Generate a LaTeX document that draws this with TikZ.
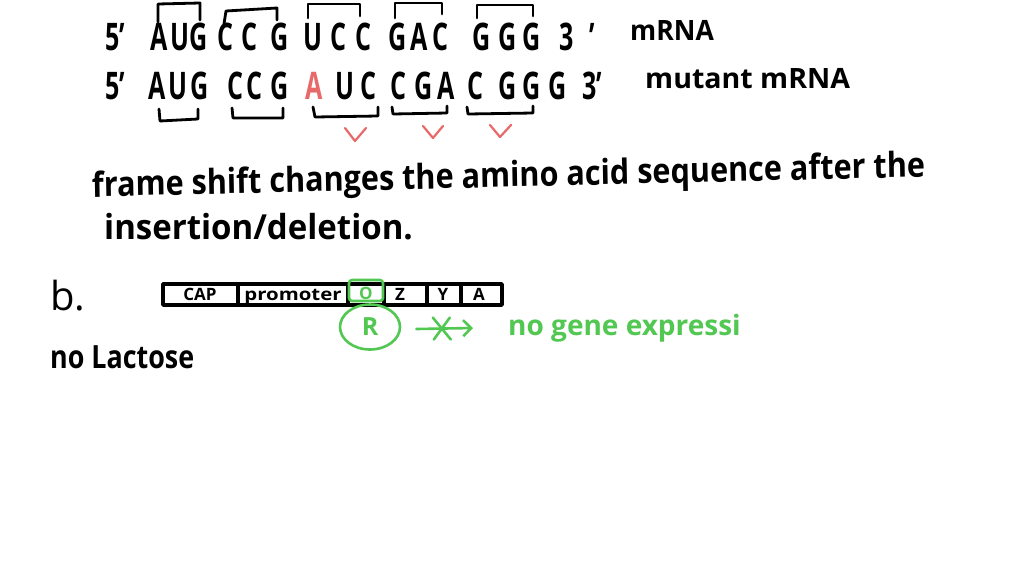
\documentclass[tikz,border=0pt]{standalone}
\usepackage{fontspec}
\setmainfont{Open Sans}
\usetikzlibrary{arrows.meta,shapes.geometric}
\definecolor{hgreen}{RGB}{82,200,82}
\definecolor{hred}{RGB}{232,105,105}
\begin{document}
\begin{tikzpicture}[x=1pt,y=-1pt,
  ink/.style={line width=2.8pt,line cap=round,line join=round},
  boxline/.style={line width=3.4pt,line cap=round,line join=round},
  gink/.style={line width=2.6pt,line cap=round,line join=round,draw=hgreen},
  rink/.style={line width=2.2pt,line cap=round,line join=round,draw=hred},
  nt/.style={inner sep=0pt,anchor=base},
  big/.style={nt,font=\fontsize{38}{38}\selectfont\bfseries,xscale=0.66},
  lab/.style={nt,font=\fontsize{28}{28}\selectfont\bfseries},
  para/.style={inner sep=0pt,anchor=base west,font=\fontsize{30}{30}\selectfont\bfseries,yscale=1.15},
  small/.style={nt,font=\fontsize{17}{17}\selectfont\bfseries}]
\path[use as bounding box,fill=white] (0,0) rectangle (1024,576);

% ---- row 1: mRNA
\node[big] (p5a) at (115,50) {5'};
\foreach \t/\x [count=\i] in {A/159,U/180,G/199,C/225,C/249,G/280,U/313,C/338,C/363,G/398,A/419,C/440,G/482,G/508,G/532}
  \node[big] (a\i) at (\x,50) {\t};
\node[big] (p3a) at (567,50) {3};
\node[big] (pa) at (592,50) {'};
\node[lab,anchor=base west,xscale=0.95] (mrna) at (630,40) {mRNA};

% brackets above row 1
\draw[ink] (158,22) -- (158,4) -- (200,3) -- (200,20);
\draw[ink] (224,24) -- (226,11) -- (277,8) -- (277,20);
\draw[ink] (308,18) -- (308,4) -- (360,4) -- (360,16);
\draw[ink] (395,18) -- (395,3) -- (442,3) -- (442,14);
\draw[ink] (477,18) -- (477,5) -- (533,5) -- (533,16);

% ---- row 2: mutant mRNA
\node[big] (p5b) at (115,99) {5'};
\foreach \t/\x [count=\i] in {A/157,U/178,G/200,C/235,C/254,G/280}
  \node[big] (b\i) at (\x,99) {\t};
\node[big,text=hred] (ins) at (314,99) {A};
\foreach \t/\x [count=\i from 7] in {U/345,C/368,C/398,G/424,A/446,C/475,G/508,G/532,G/558}
  \node[big] (b\i) at (\x,99) {\t};
\node[big] (p3b) at (592,99) {3'};
\node[lab,anchor=base west,xscale=1.02] (mut) at (645,88) {mutant mRNA};

% brackets below row 2
\draw[ink] (159,109) -- (160,121) -- (198,119) -- (198,109);
\draw[ink] (232,108) -- (233,118) -- (283,118) -- (283,108);
\draw[ink] (313,107) -- (315,117) -- (378,116) -- (378,107);
\draw[ink] (392,107) -- (393,114) -- (447,113) -- (447,106);
\draw[ink] (467,107) -- (468,114) -- (533,113) -- (533,106);

% red check marks
\draw[rink] (345,128) -- (355,141) -- (366,128);
\draw[rink] (423,126) -- (433,138) -- (443,126);
\draw[rink] (490,125) -- (500,137) -- (511,125);

% ---- sentence
\node[para,rotate=1.2,xscale=1.02] (s1) at (92,197) {frame shift changes the amino acid sequence after the};
\node[para,xscale=1.1] (s2) at (104,239) {insertion/deletion.};

% ---- part b
\node[nt,anchor=base west,font=\fontsize{40}{40}\selectfont] (pb) at (50,310) {b.};
\draw[boxline] (163,284) rectangle (502,305);
\draw[boxline] (238,284) -- (238,305);
\draw[boxline] (348,284) -- (348,305);
\draw[boxline] (384,284) -- (384,305);
\draw[boxline] (427,284) -- (427,305);
\draw[boxline] (461,284) -- (461,305);
\node[small] (cap) at (200,300) {CAP};
\node[small,xscale=1.2] (prom) at (293,300) {promoter};
\node[small,text=hgreen] (op) at (366,299) {O};
\node[small] (gz) at (400,300) {Z};
\node[small] (gy) at (443,300) {Y};
\node[small] (ga) at (479,300) {A};
\draw[gink,rounded corners=3pt] (349,280) rectangle (383,301);

\node[ellipse,gink,minimum width=60pt,minimum height=45pt,inner sep=0pt,
      text=hgreen,font=\fontsize{25}{25}\selectfont\bfseries] (R) at (370,327) {R};
\node[lab,anchor=west,text=hgreen,xscale=1.0] (nge) at (508,328) {no gene expressi};
\draw[gink,-{Straight Barb[length=8pt,width=16pt]}] ([xshift=15pt,yshift=-2pt]R.east) -- ([xshift=-35pt]nge.west)
  node[pos=0.45,inner sep=0pt] (xm) {};
\draw[gink] ([shift={(-9pt,11pt)}]xm.center) -- ([shift={(9pt,-11pt)}]xm.center);
\draw[gink] ([shift={(8pt,11pt)}]xm.center) -- ([shift={(-8pt,-11pt)}]xm.center);

\node[lab,anchor=base west,font=\fontsize{32}{32}\selectfont\bfseries,xscale=0.84] (nl) at (50,368) {no Lactose};
\end{tikzpicture}
\end{document}
